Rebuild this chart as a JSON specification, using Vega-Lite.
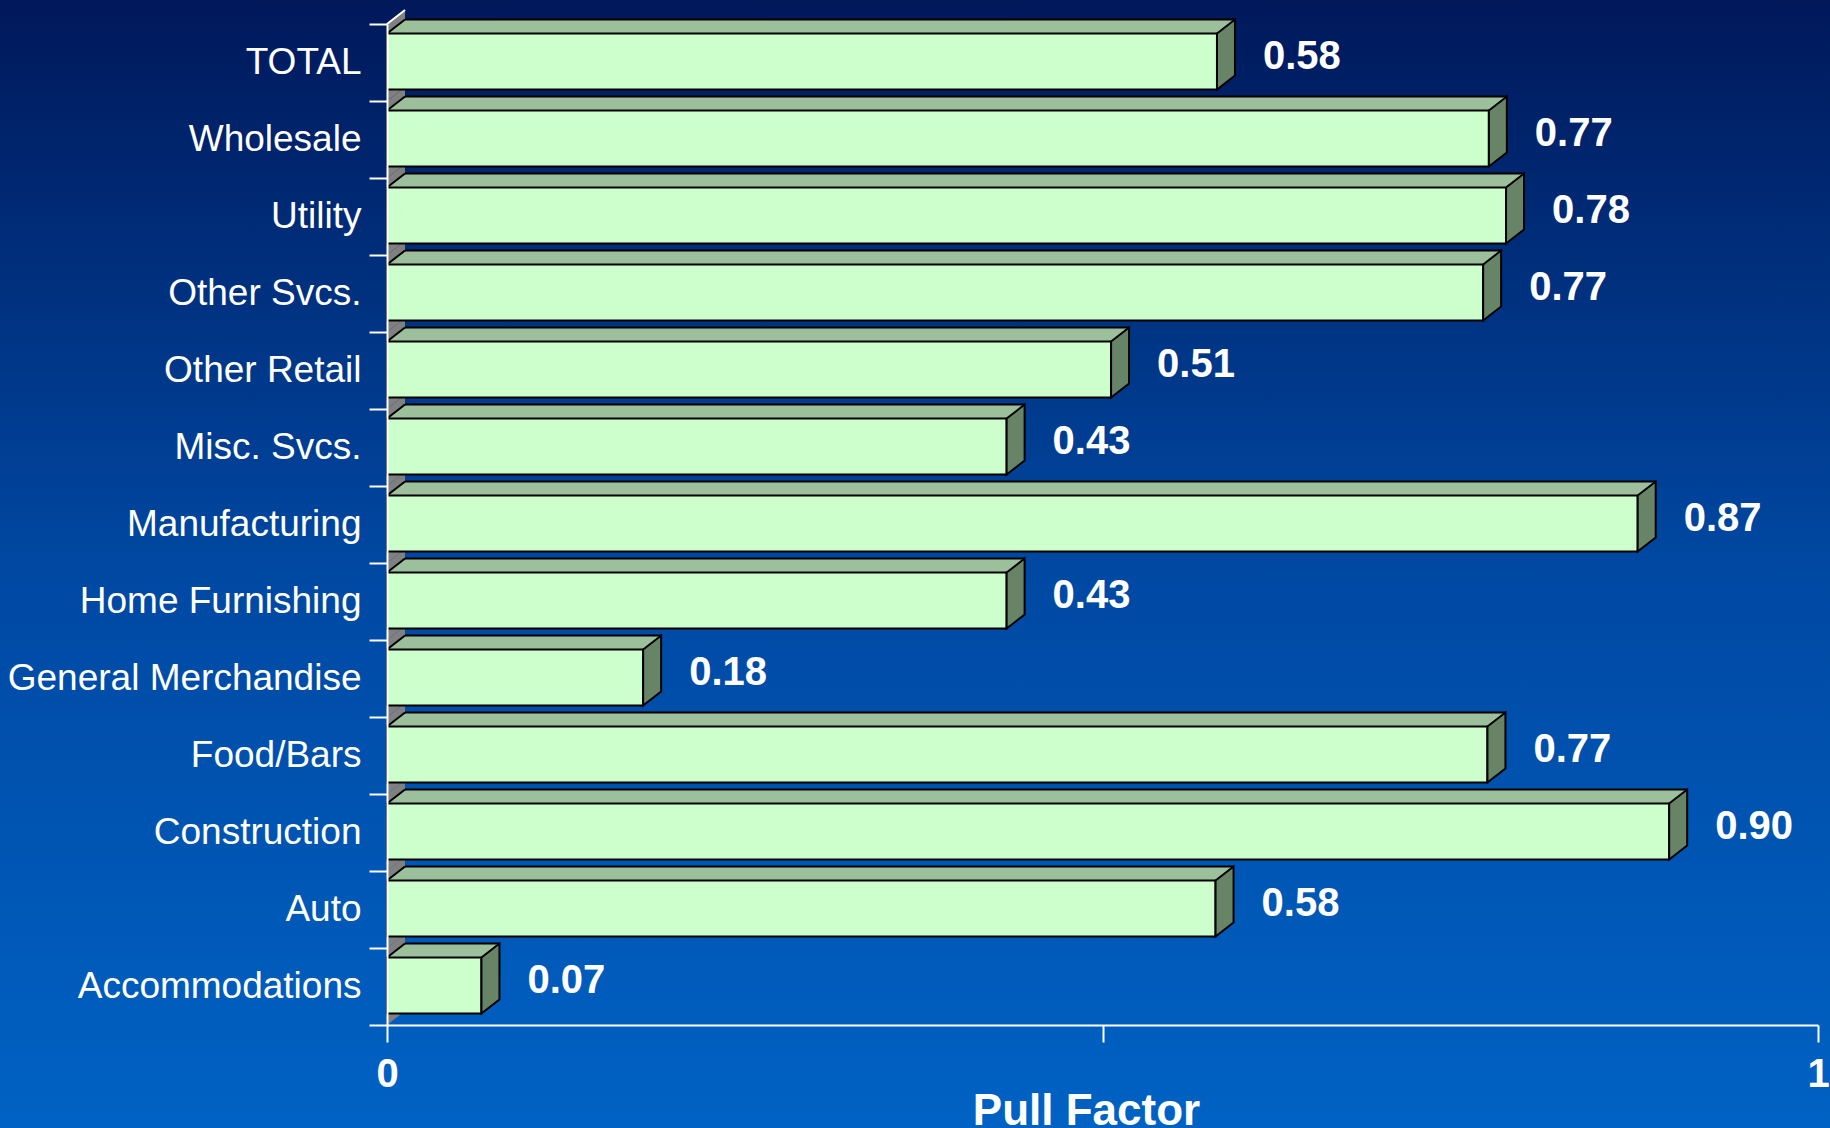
{
  "$schema": "https://vega.github.io/schema/vega-lite/v6.json",
  "width": 1830,
  "height": 1128,
  "autosize": {"type": "none"},
  "padding": 0,
  "background": "#0040A0",
  "config": {
    "font": "Liberation Sans",
    "view": {
      "stroke": null,
      "fill": {
        "gradient": "linear", "x1": 0, "y1": 0, "x2": 0, "y2": 1,
        "stops": [
          {"offset": 0, "color": "#00185A"},
          {"offset": 0.5, "color": "#0048A2"},
          {"offset": 1, "color": "#0062C4"}
        ]
      }
    }
  },
  "data": {
    "values": [
      {"category": "TOTAL", "value": 0.58},
      {"category": "Wholesale", "value": 0.77},
      {"category": "Utility", "value": 0.782},
      {"category": "Other Svcs.", "value": 0.766},
      {"category": "Other Retail", "value": 0.506},
      {"category": "Misc. Svcs.", "value": 0.433},
      {"category": "Manufacturing", "value": 0.874},
      {"category": "Home Furnishing", "value": 0.433},
      {"category": "General Merchandise", "value": 0.179},
      {"category": "Food/Bars", "value": 0.769},
      {"category": "Construction", "value": 0.896},
      {"category": "Auto", "value": 0.579},
      {"category": "Accommodations", "value": 0.066}
    ]
  },
  "encoding": {
    "y": {
      "field": "category", "type": "nominal", "sort": null,
      "scale": {"range": [24, 1025], "paddingInner": 0, "paddingOuter": 0},
      "axis": {
        "title": null, "offset": -387, "zindex": 1, "tickBand": "extent",
        "domainColor": "white", "domainWidth": 2,
        "tickColor": "white", "tickWidth": 2, "tickSize": 18,
        "labelColor": "white", "labelFontSize": 37, "labelPadding": 8, "labelLimit": 0
      }
    }
  },
  "layer": [
    {
      "mark": {"type": "point", "shape": "M0,-38.5L18,-52.5L18,24.5L0,38.5Z", "size": 4, "filled": true, "fill": "#808080", "strokeWidth": 0, "opacity": 1},
      "encoding": {
        "x": {
          "datum": 0, "type": "quantitative",
          "scale": {"domain": [0, 1], "range": [387, 1818]},
          "axis": {
            "values": [0, 0.5, 1],
            "labelExpr": "datum.value == 0 ? '0' : datum.value == 1 ? '1' : ''",
            "grid": false, "offset": -103, "zindex": 1,
            "domainColor": "white", "domainWidth": 2,
            "tickColor": "white", "tickWidth": 2, "tickSize": 17,
            "labelColor": "white", "labelFontSize": 40, "labelFontWeight": "bold",
            "labelPadding": 12, "labelFlush": false, "labelOverlap": false,
            "title": "Pull Factor", "titleColor": "white", "titleFontSize": 44, "titleFontWeight": "bold",
            "titleX": 1086, "titleY": 64, "titleAlign": "center", "titleBaseline": "top"
          }
        }
      }
    },
    {
      "transform": [{"filter": "datum.category == 'TOTAL'"}],
      "mark": {"type": "point", "shape": "M0,-38.5L18,-52.5", "size": 4, "filled": false, "stroke": "white", "strokeWidth": 2, "opacity": 1},
      "encoding": {
        "x": {"datum": 0, "type": "quantitative"}
      }
    },
    {
      "mark": {"type": "bar", "color": "#9BC09B", "height": 14, "yOffset": -36, "xOffset": 18, "x2Offset": 18},
      "encoding": {
        "x": {"field": "value", "type": "quantitative"}
      }
    },
    {
      "mark": {"type": "bar", "color": "black", "height": 2, "yOffset": -43, "xOffset": 18, "x2Offset": 18},
      "encoding": {
        "x": {"field": "value", "type": "quantitative"}
      }
    },
    {
      "mark": {"type": "point", "shape": "M0,-29L18,-43L18,-29Z", "size": 4, "filled": true, "fill": "#9BC09B", "strokeWidth": 0, "opacity": 1},
      "encoding": {
        "x": {"datum": 0, "type": "quantitative"}
      }
    },
    {
      "mark": {"type": "point", "shape": "M0,-29L18,-43", "size": 4, "filled": false, "stroke": "black", "strokeWidth": 2, "opacity": 1},
      "encoding": {
        "x": {"datum": 0, "type": "quantitative"}
      }
    },
    {
      "mark": {"type": "bar", "fill": "#CCFFCC", "stroke": "black", "strokeWidth": 2, "height": 56, "yOffset": -1},
      "encoding": {
        "x": {"field": "value", "type": "quantitative"}
      }
    },
    {
      "mark": {"type": "point", "shape": "M0,-29L18,-43L18,13L0,27Z", "size": 4, "filled": true, "fill": "#678467", "stroke": "black", "strokeWidth": 2, "opacity": 1},
      "encoding": {
        "x": {"field": "value", "type": "quantitative"}
      }
    },
    {
      "mark": {"type": "text", "align": "left", "baseline": "middle", "dx": 46, "yOffset": -6, "fontSize": 40, "fontWeight": "bold", "color": "white"},
      "encoding": {
        "x": {"field": "value", "type": "quantitative"},
        "text": {"field": "value", "type": "quantitative", "format": ".2f"}
      }
    }
  ]
}
